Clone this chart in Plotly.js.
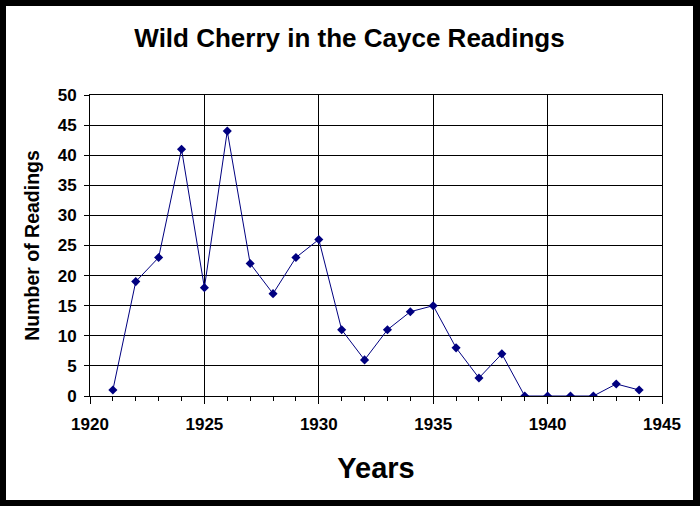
<!DOCTYPE html>
<html>
<head>
<meta charset="utf-8">
<script src="https://cdn.plot.ly/plotly-3.0.1.min.js"></script>
<style>
  html, body { margin: 0; padding: 0; background: #000; }
  #chart { position: absolute; left: 6px; top: 6px; width: 687px; height: 494px; }
</style>
</head>
<body>
<div id="chart"></div>
<script>
// readings per year
var years = [1921, 1922, 1923, 1924, 1925, 1926, 1927, 1928, 1929, 1930, 1931, 1932,
             1933, 1934, 1935, 1936, 1937, 1938, 1939, 1940, 1941, 1942, 1943, 1944];
var readings = [1, 19, 23, 41, 18, 44, 22, 17, 23, 26, 11, 6,
                11, 14, 15, 8, 3, 7, 0, 0, 0, 0, 2, 1];

var fnt = "Liberation Sans, Arial, sans-serif";

var data = [{
    x: years,
    y: readings,
    mode: 'lines+markers',
    line: {color: '#000080', width: 1},
    marker: {symbol: 'diamond', size: 7, color: '#000080'},
    hoverinfo: 'x+y'
}];

var layout = {
    paper_bgcolor: '#ffffff',
    plot_bgcolor: '#ffffff',
    margin: {l: 84, r: 31, t: 89, b: 104},
    showlegend: false,
    title: {
        text: '<b>Wild Cherry in the Cayce Readings</b>',
        font: {family: fnt, size: 26, color: '#000'},
        x: 0.5, xanchor: 'center',
        y: 0.935, yanchor: 'middle'
    },
    xaxis: {
        range: [1920, 1945],
        dtick: 5,
        tick0: 1920,
        showgrid: true,
        gridcolor: '#000',
        gridwidth: 1,
        zeroline: false,
        showline: true,
        linecolor: '#000',
        linewidth: 1,
        mirror: true,
        ticks: 'outside',
        ticklen: 7,
        tickcolor: '#000',
        ticklabelstandoff: 6,
        tickfont: {family: fnt, size: 17, color: '#000', weight: 'bold'},
        minor: {dtick: 1, tick0: 1920, ticks: 'outside', ticklen: 4, tickcolor: '#000', showgrid: false},
        title: {
            text: '<b>Years</b>',
            font: {family: fnt, size: 29, color: '#000'},
            standoff: 24
        }
    },
    yaxis: {
        range: [0, 50],
        dtick: 5,
        showgrid: true,
        gridcolor: '#000',
        gridwidth: 1,
        zeroline: false,
        showline: true,
        linecolor: '#000',
        linewidth: 1,
        mirror: true,
        ticks: 'outside',
        ticklen: 5,
        tickcolor: '#000',
        ticklabelstandoff: 4,
        tickfont: {family: fnt, size: 17, color: '#000', weight: 'bold'},
        title: {
            text: '<b>Number of Readings</b>',
            font: {family: fnt, size: 19.5, color: '#000'},
            standoff: 12
        }
    }
};

Plotly.newPlot('chart', data, layout, {displayModeBar: false});
</script>
</body>
</html>
